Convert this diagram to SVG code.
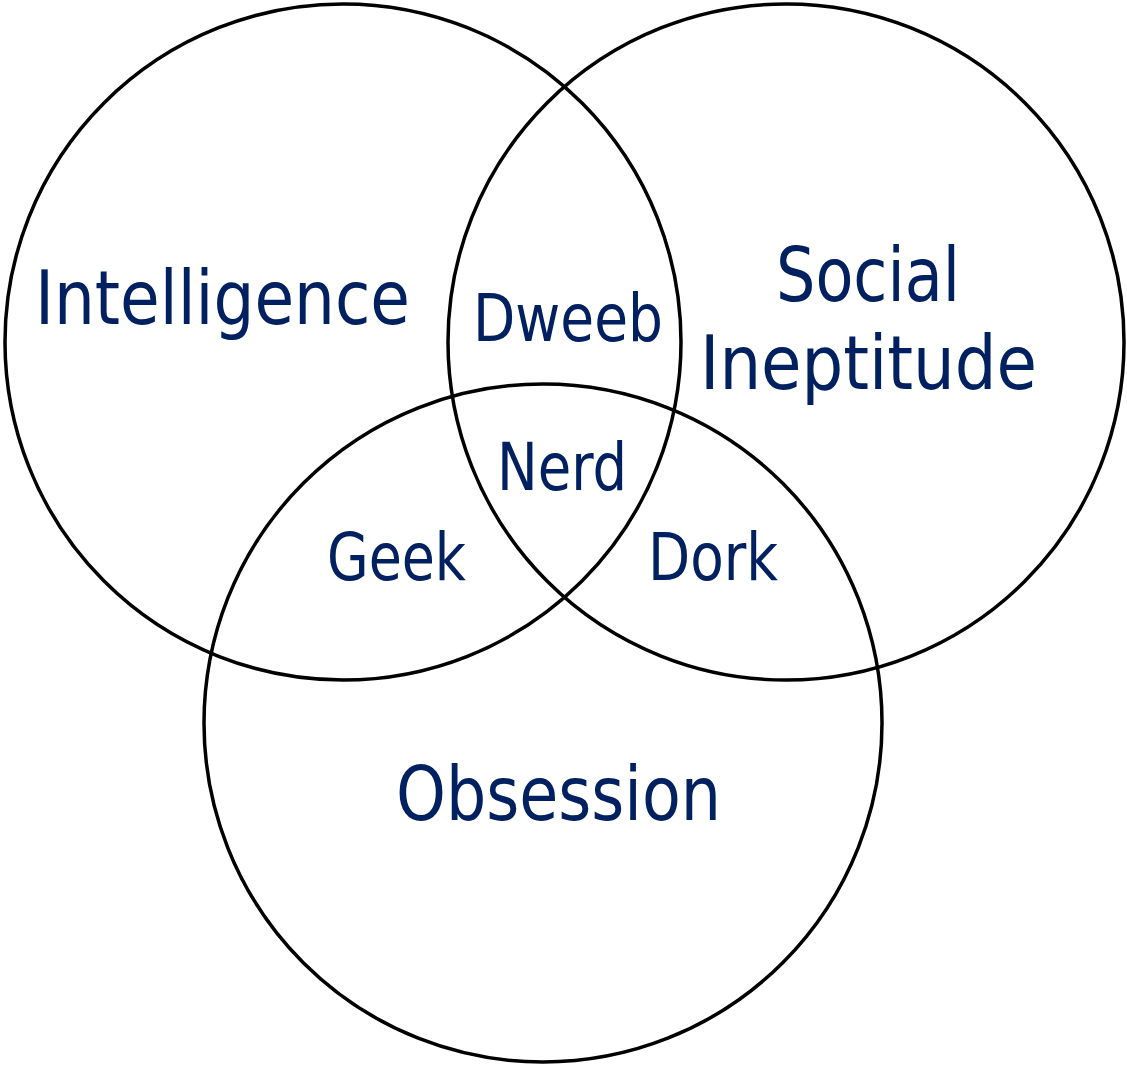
<svg xmlns="http://www.w3.org/2000/svg" width="1127" height="1067" viewBox="0 0 1127 1067">
<style>
.c{fill:none;stroke:#000;stroke-width:3.5}
.t{font-family:"DejaVu Sans Condensed","DejaVu Sans",Verdana,sans-serif;font-stretch:condensed;fill:#002060}
.big{font-size:74px}
.sm{font-size:65px}
</style>
<rect width="1127" height="1067" fill="#fff"/>
<g id="circles">
<circle id="c-intelligence" class="c" cx="343" cy="342" r="338"/>
<circle id="c-social" class="c" cx="786" cy="342" r="338"/>
<circle id="c-obsession" class="c" cx="543" cy="723" r="339"/>
</g>
<g id="labels">
<text id="intelligence" class="t big" x="35" y="324" textLength="375" lengthAdjust="spacingAndGlyphs">Intelligence</text>
<text id="social" class="t big" x="776" y="301" textLength="184" lengthAdjust="spacingAndGlyphs">Social</text>
<text id="ineptitude" class="t big" x="700" y="389" textLength="337" lengthAdjust="spacingAndGlyphs">Ineptitude</text>
<text id="obsession" class="t big" x="396" y="820" textLength="325" lengthAdjust="spacingAndGlyphs">Obsession</text>
<text id="dweeb" class="t sm" x="473" y="341" textLength="190" lengthAdjust="spacingAndGlyphs">Dweeb</text>
<text id="nerd" class="t sm" x="497" y="490" textLength="130" lengthAdjust="spacingAndGlyphs">Nerd</text>
<text id="geek" class="t sm" x="327" y="580" textLength="139" lengthAdjust="spacingAndGlyphs">Geek</text>
<text id="dork" class="t sm" x="648" y="580" textLength="130" lengthAdjust="spacingAndGlyphs">Dork</text>
</g>
</svg>
